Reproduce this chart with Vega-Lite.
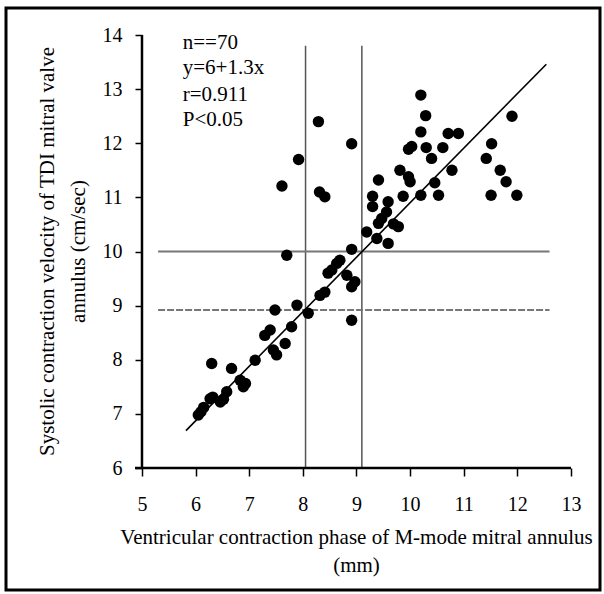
{
  "$schema": "https://vega.github.io/schema/vega-lite/v6.json",
  "width": 594,
  "height": 582,
  "autosize": {"type": "none"},
  "padding": {"left": 6, "top": 8, "right": 4, "bottom": 4},
  "background": "white",
  "view": {"stroke": "black", "strokeWidth": 3},
  "datasets": {
    "points": [
      {"x": 6.05, "y": 6.98}, {"x": 6.10, "y": 7.04}, {"x": 6.15, "y": 7.12}, {"x": 6.27, "y": 7.28},
      {"x": 6.32, "y": 7.31}, {"x": 6.46, "y": 7.22}, {"x": 6.52, "y": 7.27}, {"x": 6.58, "y": 7.41},
      {"x": 6.30, "y": 7.93}, {"x": 6.67, "y": 7.84}, {"x": 6.83, "y": 7.62}, {"x": 6.89, "y": 7.50},
      {"x": 6.93, "y": 7.56}, {"x": 7.11, "y": 7.99}, {"x": 7.29, "y": 8.45}, {"x": 7.39, "y": 8.55},
      {"x": 7.45, "y": 8.18}, {"x": 7.51, "y": 8.09}, {"x": 7.67, "y": 8.30}, {"x": 7.48, "y": 8.92},
      {"x": 7.79, "y": 8.61}, {"x": 7.89, "y": 9.01}, {"x": 8.10, "y": 8.86}, {"x": 8.32, "y": 9.19},
      {"x": 8.41, "y": 9.25}, {"x": 8.91, "y": 8.73}, {"x": 8.54, "y": 9.66}, {"x": 8.63, "y": 9.78},
      {"x": 8.69, "y": 9.84}, {"x": 8.47, "y": 9.60}, {"x": 8.82, "y": 9.56}, {"x": 8.91, "y": 9.35},
      {"x": 8.97, "y": 9.44}, {"x": 8.91, "y": 10.04}, {"x": 7.70, "y": 9.93}, {"x": 8.29, "y": 12.40},
      {"x": 8.91, "y": 11.99}, {"x": 7.92, "y": 11.70}, {"x": 7.61, "y": 11.21}, {"x": 8.31, "y": 11.10},
      {"x": 8.41, "y": 11.01}, {"x": 9.19, "y": 10.36}, {"x": 9.38, "y": 10.24}, {"x": 9.59, "y": 10.15},
      {"x": 9.41, "y": 10.52}, {"x": 9.47, "y": 10.61}, {"x": 9.56, "y": 10.73}, {"x": 9.59, "y": 10.92},
      {"x": 9.69, "y": 10.51}, {"x": 9.78, "y": 10.46}, {"x": 9.30, "y": 10.83}, {"x": 9.30, "y": 11.02},
      {"x": 9.41, "y": 11.32}, {"x": 9.87, "y": 11.02}, {"x": 9.81, "y": 11.50}, {"x": 9.97, "y": 11.38},
      {"x": 10.00, "y": 11.29}, {"x": 9.97, "y": 11.89}, {"x": 10.03, "y": 11.94}, {"x": 10.20, "y": 12.21},
      {"x": 10.20, "y": 12.89}, {"x": 10.29, "y": 12.51}, {"x": 10.30, "y": 11.92}, {"x": 10.40, "y": 11.72},
      {"x": 10.61, "y": 11.92}, {"x": 10.71, "y": 12.18}, {"x": 10.90, "y": 12.18}, {"x": 10.78, "y": 11.50},
      {"x": 10.46, "y": 11.27}, {"x": 10.53, "y": 11.04}, {"x": 10.20, "y": 11.04}, {"x": 11.90, "y": 12.50},
      {"x": 11.52, "y": 11.99}, {"x": 11.42, "y": 11.72}, {"x": 11.68, "y": 11.50}, {"x": 11.79, "y": 11.29},
      {"x": 11.51, "y": 11.04}, {"x": 11.99, "y": 11.04}
    ],
    "vlines": [
      {"x": 8.05, "x2": 8.05, "y": 6, "y2": 13.8},
      {"x": 9.10, "x2": 9.10, "y": 6, "y2": 13.8}
    ],
    "hsolid": [
      {"x": 5.3, "x2": 12.6, "y": 10.0, "y2": 10.0}
    ],
    "hdash": [
      {"x": 5.3, "x2": 12.6, "y": 8.92, "y2": 8.92}
    ],
    "axes": [
      {"x": 4.87, "x2": 13.0, "y": 6, "y2": 6},
      {"x": 5.0, "x2": 5.0, "y": 6, "y2": 14}
    ],
    "fit": [
      {"x": 5.82, "x2": 12.54, "y": 6.69, "y2": 13.46}
    ],
    "notes": [
      {"x": 5.76, "y": 13.85, "label": "n==70"},
      {"x": 5.76, "y": 13.39, "label": "y=6+1.3x"},
      {"x": 5.76, "y": 12.89, "label": "r=0.911"},
      {"x": 5.76, "y": 12.43, "label": "P<0.05"}
    ]
  },
  "encoding": {
    "x": {
      "field": "x", "type": "quantitative",
      "scale": {"domain": [2.464, 13.541], "nice": false, "zero": false},
      "axis": {
        "values": [5, 6, 7, 8, 9, 10, 11, 12, 13], "format": "d",
        "offset": -122, "tickSize": 8, "labelPadding": 18,
        "title": ["Ventricular contraction phase of M-mode mitral annulus", "(mm)"],
        "titlePadding": 12, "titleLineHeight": 28,
        "titleX": 350, "titleAlign": "center"
      }
    },
    "y": {
      "field": "y", "type": "quantitative",
      "scale": {"domain": [3.746, 14.499], "nice": false, "zero": false},
      "axis": {
        "values": [6, 7, 8, 9, 10, 11, 12, 13, 14], "format": "d",
        "offset": -136, "tickSize": 7, "labelPadding": 13,
        "title": ["Systolic contraction velocity of TDI mitral valve", "annulus (cm/sec)"],
        "titlePadding": 14, "titleLineHeight": 31,
        "titleY": 243, "titleAlign": "center"
      }
    }
  },
  "layer": [
    {
      "data": {"name": "vlines"},
      "mark": {"type": "rule", "color": "#555555", "strokeWidth": 1.5},
      "encoding": {"x2": {"field": "x2"}, "y2": {"field": "y2"}}
    },
    {
      "data": {"name": "hsolid"},
      "mark": {"type": "rule", "color": "#777777", "strokeWidth": 2},
      "encoding": {"x2": {"field": "x2"}, "y2": {"field": "y2"}}
    },
    {
      "data": {"name": "hdash"},
      "mark": {"type": "rule", "color": "#777777", "strokeWidth": 2, "strokeDash": [7, 2]},
      "encoding": {"x2": {"field": "x2"}, "y2": {"field": "y2"}}
    },
    {
      "data": {"name": "axes"},
      "mark": {"type": "rule", "color": "black", "strokeWidth": 2.5},
      "encoding": {"x2": {"field": "x2"}, "y2": {"field": "y2"}}
    },
    {
      "data": {"name": "fit"},
      "mark": {"type": "rule", "color": "black", "strokeWidth": 1.6},
      "encoding": {"x2": {"field": "x2"}, "y2": {"field": "y2"}}
    },
    {
      "data": {"name": "points"},
      "mark": {"type": "point", "shape": "circle", "filled": true, "color": "black", "size": 130, "opacity": 1}
    },
    {
      "data": {"name": "notes"},
      "mark": {"type": "text", "align": "left", "baseline": "middle", "font": "Liberation Serif", "fontSize": 21, "color": "black"},
      "encoding": {"text": {"field": "label"}}
    }
  ],
  "config": {
    "axis": {
      "grid": false, "domain": false,
      "labelFont": "Liberation Serif", "labelFontSize": 20, "labelColor": "black",
      "titleFont": "Liberation Serif", "titleFontSize": 21, "titleFontWeight": "normal", "titleColor": "black",
      "tickColor": "black", "tickWidth": 1.5
    }
  }
}
